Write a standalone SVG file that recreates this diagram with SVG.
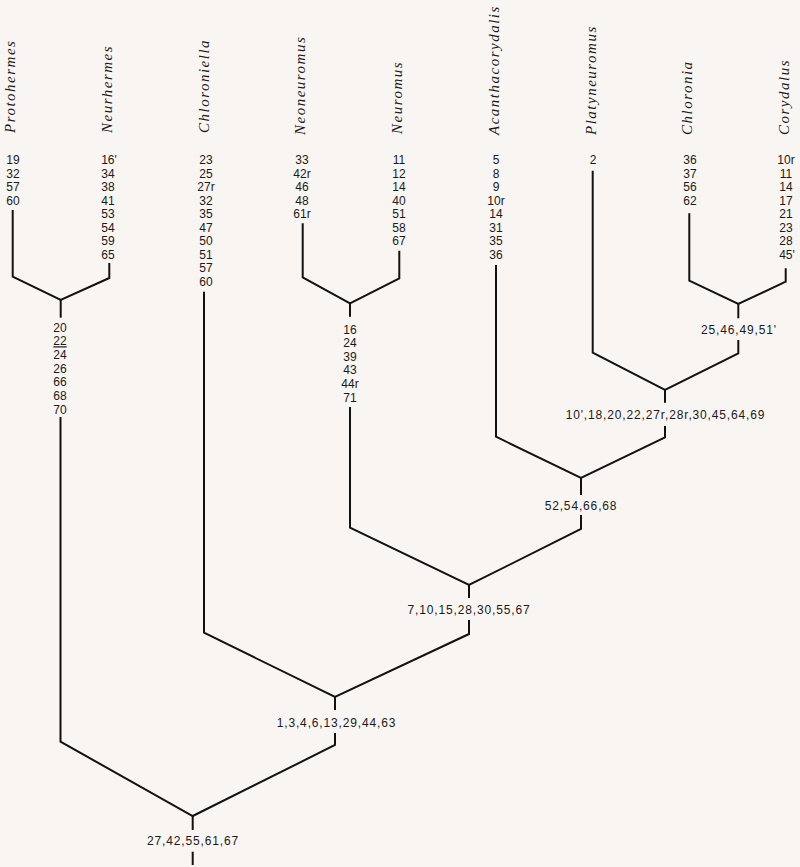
<svg xmlns="http://www.w3.org/2000/svg" width="800" height="867" viewBox="0 0 800 867">
<style>
.name{font-family:"Liberation Serif",serif;font-style:italic;font-size:15px;letter-spacing:1.5px;fill:#1a1a1a}
.col{font-family:"Liberation Sans",Arial,sans-serif;font-size:12px;fill:#1a1a1a;text-anchor:middle}
.lab{font-family:"Liberation Sans",Arial,sans-serif;font-size:12px;letter-spacing:0.85px;fill:#1a1a1a;text-anchor:middle}
.br{fill:none;stroke:#111;stroke-width:2;stroke-linejoin:miter}
</style>
<rect width="800" height="867" fill="#f9f5f2"/>

<g id="connectors" class="br">
  <path d="M12.7,210 V276.7 L60.7,300 L109.3,278 V263"/>
  <path d="M60.7,300 V317.7"/>
  <path d="M60.5,417 V741.7 L192.7,816 L335,745 V733"/>
  <path d="M192.7,816 V830"/>
  <path d="M192.7,851.7 V865"/>
  <path d="M204,291.7 V632.7 L335,697 L469,634 V620"/>
  <path d="M335,697 V710"/>
  <path d="M302.7,223.3 V277.3 L350,303.3 L399.3,278.3 V250.7"/>
  <path d="M350,303.3 V316.7"/>
  <path d="M350,407 V527.7 L469,585 L581,529 V515"/>
  <path d="M469,585 V598"/>
  <path d="M496,265 V436.7 L581,478 L665,437.3 V426"/>
  <path d="M581,478 V495"/>
  <path d="M592.7,170.7 V352.7 L665,390 L738.3,353.3 V340"/>
  <path d="M665,390 V402.7"/>
  <path d="M689.3,213.3 V280.7 L738.3,304 L785.7,281.7 V268.3"/>
  <path d="M738.3,304 V318.3"/>
</g>

<g id="protohermes">
  <text class="name" transform="translate(15,133) rotate(-90)">Protohermes</text>
  <text class="col"><tspan x="13" y="164.3">19</tspan><tspan x="13" y="177.8">32</tspan><tspan x="13" y="191.3">57</tspan><tspan x="13" y="204.8">60</tspan></text>
</g>
<g id="neurhermes">
  <text class="name" transform="translate(112,133) rotate(-90)">Neurhermes</text>
  <text class="col"><tspan x="109" y="164.3">16'</tspan><tspan x="108" y="177.8">34</tspan><tspan x="108" y="191.3">38</tspan><tspan x="108" y="204.8">41</tspan><tspan x="108" y="218.3">53</tspan><tspan x="108" y="231.8">54</tspan><tspan x="108" y="245.3">59</tspan><tspan x="108" y="258.8">65</tspan></text>
</g>
<g id="chloroniella">
  <text class="name" transform="translate(209,133) rotate(-90)">Chloroniella</text>
  <text class="col"><tspan x="206" y="164.3">23</tspan><tspan x="206" y="177.8">25</tspan><tspan x="206" y="191.3">27r</tspan><tspan x="206" y="204.8">32</tspan><tspan x="206" y="218.3">35</tspan><tspan x="206" y="231.8">47</tspan><tspan x="206" y="245.3">50</tspan><tspan x="206" y="258.8">51</tspan><tspan x="206" y="272.3">57</tspan><tspan x="206" y="285.8">60</tspan></text>
</g>
<g id="neoneuromus">
  <text class="name" transform="translate(305,135) rotate(-90)">Neoneuromus</text>
  <text class="col"><tspan x="302" y="164.3">33</tspan><tspan x="302" y="177.8">42r</tspan><tspan x="302" y="191.3">46</tspan><tspan x="302" y="204.8">48</tspan><tspan x="302" y="218.3">61r</tspan></text>
</g>
<g id="neuromus">
  <text class="name" transform="translate(402,134) rotate(-90)">Neuromus</text>
  <text class="col"><tspan x="399" y="164.3">11</tspan><tspan x="399" y="177.8">12</tspan><tspan x="399" y="191.3">14</tspan><tspan x="399" y="204.8">40</tspan><tspan x="399" y="218.3">51</tspan><tspan x="399" y="231.8">58</tspan><tspan x="399" y="245.3">67</tspan></text>
</g>
<g id="acanthacorydalis">
  <text class="name" transform="translate(499,135) rotate(-90)">Acanthacorydalis</text>
  <text class="col"><tspan x="496" y="164.3">5</tspan><tspan x="496" y="177.8">8</tspan><tspan x="496" y="191.3">9</tspan><tspan x="496" y="204.8">10r</tspan><tspan x="496" y="218.3">14</tspan><tspan x="496" y="231.8">31</tspan><tspan x="496" y="245.3">35</tspan><tspan x="496" y="258.8">36</tspan></text>
</g>
<g id="platyneuromus">
  <text class="name" transform="translate(595.5,135) rotate(-90)">Platyneuromus</text>
  <text class="col"><tspan x="593" y="164.3">2</tspan></text>
</g>
<g id="chloronia">
  <text class="name" transform="translate(692,135) rotate(-90)">Chloronia</text>
  <text class="col"><tspan x="690" y="164.3">36</tspan><tspan x="690" y="177.8">37</tspan><tspan x="690" y="191.3">56</tspan><tspan x="690" y="204.8">62</tspan></text>
</g>
<g id="corydalus">
  <text class="name" transform="translate(789,135) rotate(-90)">Corydalus</text>
  <text class="col"><tspan x="786" y="164.3">10r</tspan><tspan x="786" y="177.8">11</tspan><tspan x="786" y="191.3">14</tspan><tspan x="786" y="204.8">17</tspan><tspan x="786" y="218.3">21</tspan><tspan x="786" y="231.8">23</tspan><tspan x="786" y="245.3">28</tspan><tspan x="787" y="258.8">45'</tspan></text>
</g>

<g id="node-protohermes-neurhermes">
  <text class="col"><tspan x="60" y="331.6">20</tspan><tspan x="60" y="345.3" text-decoration="underline">22</tspan><tspan x="60" y="359">24</tspan><tspan x="60" y="372.7">26</tspan><tspan x="60" y="386.4">66</tspan><tspan x="60" y="400.1">68</tspan><tspan x="60" y="413.8">70</tspan></text>
</g>
<g id="node-neoneuromus-neuromus">
  <text class="col"><tspan x="350" y="333.6">16</tspan><tspan x="350" y="347.2">24</tspan><tspan x="350" y="360.8">39</tspan><tspan x="350" y="374.4">43</tspan><tspan x="350" y="388">44r</tspan><tspan x="350" y="401.6">71</tspan></text>
</g>
<g id="node-chloronia-corydalus"><text class="lab" x="739" y="334.3">25,46,49,51'</text></g>
<g id="node-platyneuromus"><text class="lab" x="665.5" y="418.6">10',18,20,22,27r,28r,30,45,64,69</text></g>
<g id="node-acanthacorydalis"><text class="lab" x="581" y="510.3">52,54,66,68</text></g>
<g id="node-neuromus-group"><text class="lab" x="469" y="613.6">7,10,15,28,30,55,67</text></g>
<g id="node-chloroniella"><text class="lab" x="336.5" y="727">1,3,4,6,13,29,44,63</text></g>
<g id="node-root"><text class="lab" x="193" y="845.3">27,42,55,61,67</text></g>
</svg>
